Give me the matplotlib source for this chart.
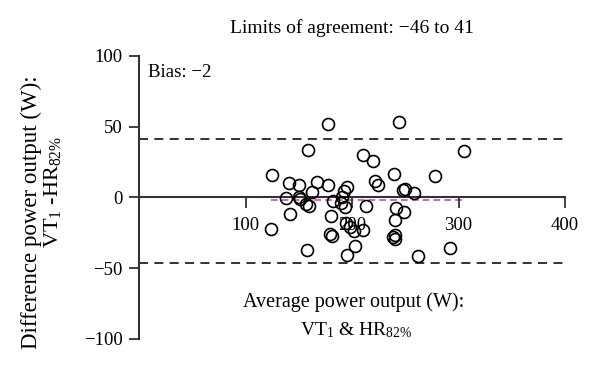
import matplotlib
matplotlib.use("Agg")
import matplotlib.pyplot as plt

plt.rcParams['font.family'] = ['Liberation Serif', 'DejaVu Serif']
plt.rcParams['mathtext.fontset'] = 'custom'
plt.rcParams['mathtext.rm'] = 'Liberation Serif'
plt.rcParams['mathtext.it'] = 'Liberation Serif:italic'
plt.rcParams['font.size'] = 13.5

# Bland-Altman data: average (W) vs difference (W)
avg = [124.6, 124.0, 141, 150, 167, 177, 177, 159, 244, 305,
       210, 220, 239, 278, 222, 224, 162, 195, 192, 250,
       248, 258, 138, 150, 151.3, 157, 159.7, 182, 191, 189.7,
       193, 213, 241, 141.8, 180, 249, 240.7, 194, 198, 202,
       210.6, 179, 181.5, 238.8, 240.5, 240, 157.5, 203, 195, 262,
       292]
diff = [16.0, -22.6, 10.5, 8.5, 11, 8.5, 52, 33.7, 53.7, 33,
        30, 26, 16.5, 15, 12, 8.7, 4, 7.5, 4.5, 6.1,
        5, 3.5, -0.5, 0.2, -1.2, -4.5, -5.9, -2.4, 0.5, -3.8,
        -7, -5.9, -7.5, -11.5, -13.2, -10.6, -15.8, -18.1, -21, -23.5,
        -23.1, -25.7, -27.4, -28, -26.5, -29.2, -37, -34.2, -40.3, -41.5,
        -35.9]

bias = -2
lower_loa = -46
upper_loa = 41

fig = plt.figure(figsize=(6, 3.66), dpi=100)
ax = fig.add_axes([0.2317, 0.0738, 0.71, 0.7732])

ax.axhline(upper_loa, color='#222222', lw=1.3, ls=(0, (5, 3.5)), zorder=1)
ax.axhline(lower_loa, color='#222222', lw=1.3, ls=(0, (5, 3.5)), zorder=1)
ax.plot([min(avg), max(avg)], [bias, bias], color='#c050a8', lw=1.2,
        ls=(0, (4, 2.5)), zorder=1)
ax.plot(avg, diff, ls='none', marker='o', ms=8.6, mfc='none', mec='black',
        mew=1.2, zorder=4, clip_on=False)

ax.set_xlim(0, 400)
ax.set_ylim(-100, 100)
ax.spines['top'].set_visible(False)
ax.spines['right'].set_visible(False)
ax.spines['bottom'].set_position(('data', 0))
for s in ['left', 'bottom']:
    ax.spines[s].set_color('#333333')
    ax.spines[s].set_linewidth(1.5)
ax.set_xticks([100, 200, 300, 400])
ax.set_yticks([-100, -50, 0, 50, 100])
ax.tick_params(axis='x', direction='out', length=8, width=1.3, color='#333333', pad=6)
ax.tick_params(axis='y', direction='out', length=7, width=1.3, color='#333333', pad=5)

ax.text(0.022, 0.94, 'Bias: \u22122', transform=ax.transAxes, ha='left', va='center')
fig.text(0.586, 0.9235, 'Limits of agreement: \u221246 to 41', ha='center', va='center',
         fontsize=14)
fig.text(0.59, 0.175, 'Average power output (W):', ha='center', va='center', fontsize=14.5)
fig.text(0.593, 0.098, r'VT$_1$ & HR$_{\mathrm{82\%}}$', ha='center', va='center', fontsize=14)
fig.text(0.052, 0.42, 'Difference power output (W):', rotation=90, ha='center', va='center',
         fontsize=16.5)
fig.text(0.088, 0.475, r'VT$_1$ -HR$_{\mathrm{82\%}}$', rotation=90, ha='center', va='center',
         fontsize=16)

fig.savefig('out.png', dpi=100)
